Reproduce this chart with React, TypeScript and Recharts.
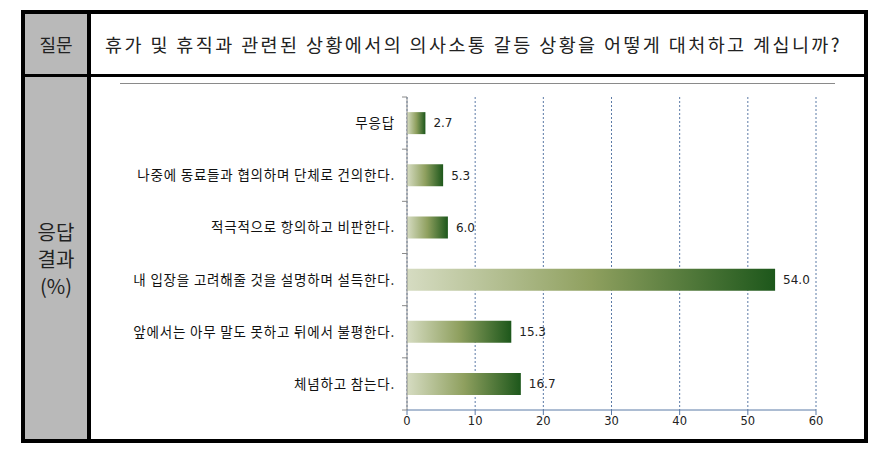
import { BarChart, Bar, XAxis, YAxis, CartesianGrid, LabelList } from "recharts";

const categories = [
  "무응답",
  "나중에 동료들과 협의하며 단체로 건의한다.",
  "적극적으로 항의하고 비판한다.",
  "내 입장을 고려해줄 것을 설명하며 설득한다.",
  "앞에서는 아무 말도 못하고 뒤에서 불평한다.",
  "체념하고 참는다.",
];
const values = [2.7, 5.3, 6.0, 54.0, 15.3, 16.7];
const xTicks = [0, 10, 20, 30, 40, 50, 60];

const question = "휴가 및 휴직과 관련된 상황에서의 의사소통 갈등 상황을 어떻게 대처하고 계십니까?";
const rowHead = ["응답", "결과", "(%)"];

const KR = '"Noto Sans CJK KR", "Noto Sans", sans-serif';
const NUM = '"DejaVu Sans", sans-serif';

// category label plus a tick mark at the band edge(s)
function CatTick(props: any) {
  const { x, y, payload, index, visibleTicksCount } = props;
  const half = payload.offset ?? 0;
  const axisX = x + 12;
  return (
    <g>
      <line x1={axisX - 5} x2={axisX} y1={y - half} y2={y - half} stroke="#8a8a8a" />
      {index === visibleTicksCount - 1 && (
        <line x1={axisX - 5} x2={axisX} y1={y + half} y2={y + half} stroke="#8a8a8a" />
      )}
      <text x={x} y={y} dy={5} textAnchor="end" fill="#111" fontSize={13.5} letterSpacing={0.8} fontFamily={KR}>
        {payload.value}
      </text>
    </g>
  );
}

export default function App() {
  const data = categories.map((name, i) => ({ name, value: values[i] }));

  return (
    <div style={{ position: "fixed", left: 0, top: 0, width: 887, height: 457, background: "#fff", fontFamily: KR }}>
      {/* table frame */}
      <div style={{ position: "absolute", left: 21, top: 10, width: 847, height: 433, boxSizing: "border-box", border: "4px solid #000" }} />
      <div style={{ position: "absolute", left: 25, top: 14, width: 62, height: 425, background: "#b9b9b9" }} />
      <div style={{ position: "absolute", left: 87, top: 14, width: 4, height: 425, background: "#000" }} />
      <div style={{ position: "absolute", left: 25, top: 74, width: 839, height: 3, background: "#000" }} />

      <div style={{ position: "absolute", left: 25, top: 14, width: 62, height: 60, display: "flex", alignItems: "center", justifyContent: "center", fontSize: 18, color: "#222" }}>
        질문
      </div>
      <div style={{ position: "absolute", left: 105, top: 14, height: 60, display: "flex", alignItems: "center", fontSize: 18.5, color: "#222", letterSpacing: 2.4, whiteSpace: "nowrap" }}>
        {question}
      </div>
      <div style={{ position: "absolute", left: 25, top: 218, width: 62, textAlign: "center", fontSize: 20, lineHeight: "27px", color: "#222" }}>
        {rowHead.map((t) => <div key={t}>{t}</div>)}
      </div>

      <div style={{ position: "absolute", left: 120, top: 83, width: 715, height: 1, background: "#8a8a8a" }} />

      <div style={{ position: "absolute", left: 100, top: 85 }}>
        <BarChart width={760} height={350} data={data} layout="vertical" margin={{ top: 12, right: 44, bottom: 0, left: 0 }} barCategoryGap="29%">
          <defs>
            <linearGradient id="barGrad" x1="0" y1="0" x2="1" y2="0">
              <stop offset="0%" stopColor="#d6dcc2" />
              <stop offset="50%" stopColor="#8fa05f" />
              <stop offset="100%" stopColor="#1d571b" />
            </linearGradient>
          </defs>
          <CartesianGrid horizontal={false} stroke="#5b7aa6" strokeDasharray="2 2" />
          <XAxis
            type="number"
            domain={[0, 60]}
            ticks={xTicks}
            height={25}
            stroke="#5b7aa6"
            tickSize={5}
            tick={{ fill: "#222", fontSize: 11.5, fontFamily: NUM }}
          />
          <YAxis
            type="category"
            dataKey="name"
            width={307}
            stroke="#8a8a8a"
            tickLine={false}
            tickSize={6}
            tickMargin={6}
            tick={<CatTick />}
          />
          <Bar dataKey="value" fill="url(#barGrad)" isAnimationActive={false}>
            <LabelList
              dataKey="value"
              position="right"
              offset={8}
              formatter={(v: number) => v.toFixed(1)}
              style={{ fill: "#222", fontSize: 12, fontFamily: NUM }}
            />
          </Bar>
        </BarChart>
      </div>
    </div>
  );
}
